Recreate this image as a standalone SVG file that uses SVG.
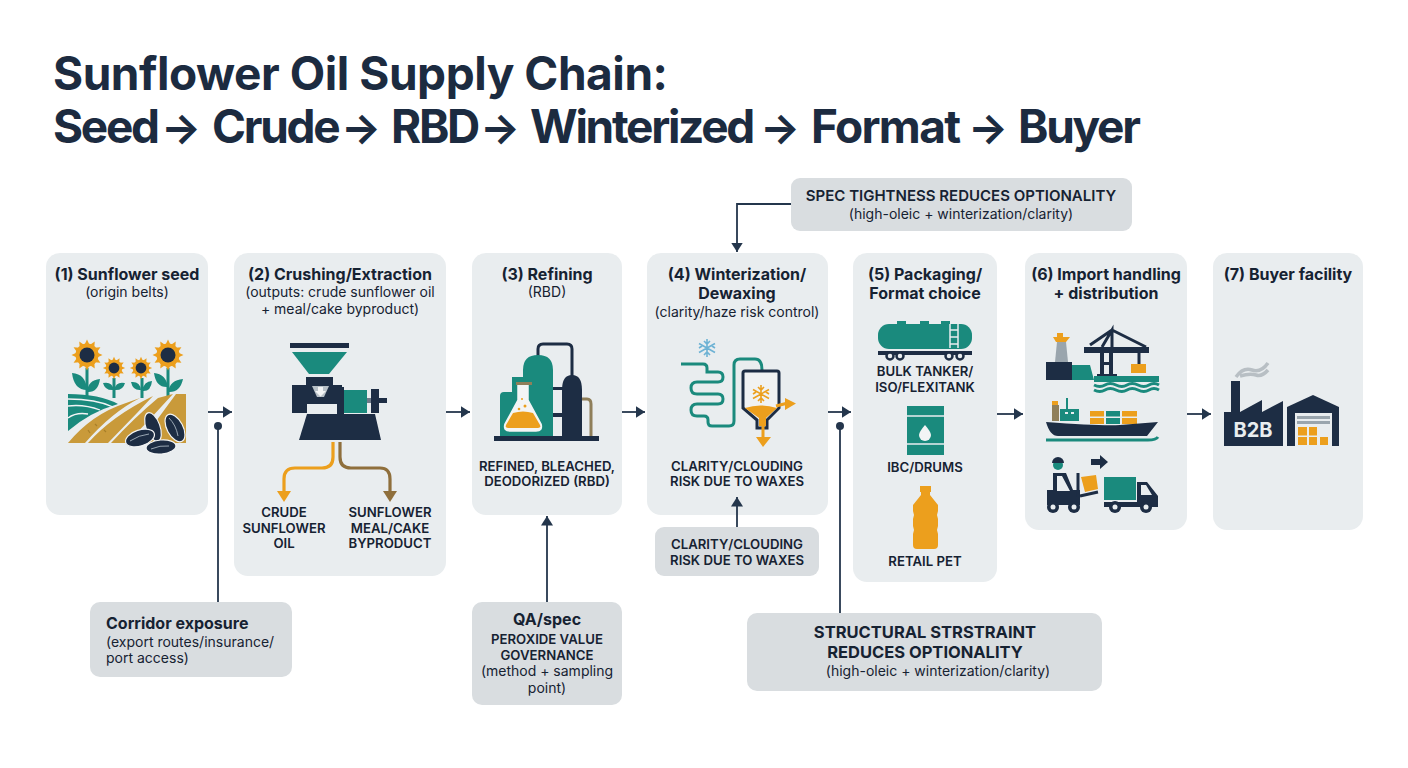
<svg xmlns="http://www.w3.org/2000/svg" width="1408" height="768" viewBox="0 0 1408 768">
<style>
text{font-family:Inter,"Liberation Sans",sans-serif;fill:#162232;text-anchor:middle}
.title{font-size:46px;font-weight:700;text-anchor:start;fill:#1c2b40}
.ar{font-size:42px}
.h{font-size:16px;font-weight:700}
.s{font-size:14px;font-weight:400}
.c{font-size:13.2px;font-weight:600}
.n{fill:#e9edef}
.g{fill:#d9dde0}
.ln{stroke:#24364c;stroke-width:1.8;fill:none}
.nv{fill:#1d2d44}.te{fill:#1a8a7d}.or{fill:#ec9f1d}.br{fill:#c99a3a}
.tl{fill:none;stroke:#1a8a7d;stroke-width:3}
.nl{fill:none;stroke:#1d2d44;stroke-width:3}
.sd{fill:#1d2d44;stroke:#f2f4f5;stroke-width:1.2}
</style>
<defs>
<marker id="a" markerUnits="userSpaceOnUse" markerWidth="10" markerHeight="13" refX="9.500" refY="6.500" orient="auto"><path d="M0 .5L9.500 6.500L0 12.500z" fill="#24364c"/></marker>
<path id="p" d="M-2.600-10L0-15.500L2.600-10z"/>
<g id="flower"><g class="or"><circle r="11.500"/><use href="#p"/><use href="#p" transform="rotate(30)"/><use href="#p" transform="rotate(60)"/><use href="#p" transform="rotate(90)"/><use href="#p" transform="rotate(120)"/><use href="#p" transform="rotate(150)"/><use href="#p" transform="rotate(180)"/><use href="#p" transform="rotate(210)"/><use href="#p" transform="rotate(240)"/><use href="#p" transform="rotate(270)"/><use href="#p" transform="rotate(300)"/><use href="#p" transform="rotate(330)"/></g><circle r="7.500" class="nv"/></g>
<g id="snow"><path d="M0-9V9M-8-4.500L8 4.500M-8 4.500L8-4.500M-3-7L0-4L3-7M-3 7L0 4L3 7M-8 0L-5-2M8 0L5-2" fill="none" stroke-width="1.600"/></g>
</defs>
<text class="title" x="53" y="90" letter-spacing="-.45">Sunflower Oil Supply Chain:</text>
<text class="title" y="143" letter-spacing="-2.300"><tspan x="53">Seed</tspan> <tspan x="161" class="ar">→</tspan> <tspan x="212">Crude</tspan> <tspan x="341" class="ar">→</tspan> <tspan x="391">RBD</tspan> <tspan x="480" class="ar">→</tspan> <tspan x="530">Winterized</tspan> <tspan x="760" class="ar">→</tspan> <tspan x="811" letter-spacing="-1.700">Format</tspan> <tspan x="968" class="ar">→</tspan> <tspan x="1018">Buyer</tspan></text>

<g id="node1"><rect class="n" x="46" y="253" width="162" height="262" rx="14"/>
<text class="h" x="127" y="280">(1) Sunflower seed</text><text class="s" x="127" y="297">(origin belts)</text>
<path class="tl" stroke-width="2.500" d="M87 368V398M114 378V398M142 378V398M168 368V396"/>
<path class="te" d="M87 390Q74 390 72 373Q86 374 87 390zM87 392Q98 393 100 379Q88 380 87 392zM114 390Q105 391 103 383Q112 381 114 390zM114 390Q123 391 125 383Q116 381 114 390zM141 390Q133 391 131 382Q140 381 141 390zM142 391Q151 392 152 381Q144 381 142 391zM168 387Q156 388 154 373Q166 374 168 387zM168 392Q180 393 183 379Q170 380 168 392z"/>
<use href="#flower" x="87" y="355"/><use href="#flower" transform="translate(114 368) scale(.72)"/><use href="#flower" transform="translate(141 368) scale(.72)"/><use href="#flower" x="168" y="355"/>
<path class="te" d="M68 394Q100 394 118 404Q90 412 68 431z"/>
<path d="M68 399Q96 399 113 407M68 406Q84 404 100 410M68 418Q76 412 88 414" fill="none" stroke="#f2f4f5" stroke-width="1.300"/>
<path class="br" d="M68 443Q92 414 126 403L140 398Q112 412 85 443zM88 443Q112 416 153 396L137 413L108 443zM111 443Q134 418 158 398L173 394L150 419L127 443zM176 394H186V443H140z"/>
<path d="M88 430l2 3M95 424l2 2M104 430l2 2" stroke="#a87f28" stroke-width="1.200"/>
<ellipse class="sd" cx="153" cy="427" rx="15" ry="7" transform="rotate(70 153 427)"/><ellipse class="sd" cx="175" cy="428" rx="15" ry="8" transform="rotate(62 175 428)"/><ellipse class="sd" cx="140" cy="438" rx="15" ry="8" transform="rotate(-18 140 438)"/><ellipse class="sd" cx="161" cy="447" rx="15" ry="7" transform="rotate(-5 161 447)"/>
<path d="M130 441q9-6 19-7M151 449q9-4 18-3M169 418q7 7 9 18" stroke="#9aa7b3" stroke-width="1" fill="none"/>
</g>

<g id="node2"><rect class="n" x="234" y="253" width="212" height="323" rx="14"/>
<text class="h" x="340" y="280">(2) Crushing/Extraction</text><text class="s" x="340" y="297">(outputs: crude sunflower oil</text><text class="s" x="340" y="314">+ meal/cake byproduct)</text>
<rect class="nv" x="290" y="343" width="59" height="5"/><path class="te" d="M292 352H347L329 374H309z"/>
<path class="nv" d="M306 377H333V385H342V413H304V404V385H306zM292 385H304V413H292z"/>
<path class="nv" d="M307 414H375L381 440H299z"/>
<rect class="n" x="307" y="404" width="30" height="10"/>
<path d="M312 386H329L324 397H317z" fill="#b7c0c7"/><path d="M318 387h5v4h3l-5.500 5.500L315 391h3z" fill="#f2f4f5"/>
<rect class="nv" x="337" y="387" width="7" height="27"/>
<rect class="te" x="344" y="390" width="23" height="23"/><rect class="nv" x="371" y="389" width="8" height="24"/><rect class="nv" x="379" y="398" width="8" height="5"/><rect class="nv" x="367" y="398" width="4" height="5" opacity=".6"/>
<path fill="none" stroke="#ec9f1d" stroke-width="3.200" d="M333 442V457Q333 468 322 468H295Q284 468 284 479V492"/><path class="or" d="M277 491H291L284 502z"/>
<path fill="none" stroke="#8f6f3c" stroke-width="3.200" d="M340 442V457Q340 468 351 468H380Q390 468 390 479V492"/><path fill="#8f6f3c" d="M383 491H397L390 502z"/>
<text class="c" x="284" y="517">CRUDE</text><text class="c" x="284" y="533">SUNFLOWER</text><text class="c" x="284" y="548">OIL</text>
<text class="c" x="390" y="517">SUNFLOWER</text><text class="c" x="390" y="533">MEAL/CAKE</text><text class="c" x="390" y="548">BYPRODUCT</text>
</g>

<g id="node3"><rect class="n" x="472" y="253" width="150" height="262" rx="14"/>
<text class="h" x="547" y="280">(3) Refining</text><text class="s" x="547" y="297">(RBD)</text>
<path class="nl" d="M538 358V349Q538 344 543 344H567Q572 344 572 349V378"/>
<path fill="none" stroke="#8f7f5a" stroke-width="3" d="M580 399H587Q591 399 591 404V436"/>
<path class="nv" d="M552 387h11v3h-11zM552 413h11v4h-11z"/>
<path class="te" d="M500 436V396Q500 392 504 392H512V377H523V370Q523 355 538 355Q553 355 553 370V436z"/>
<path class="nv" d="M562 436V390Q562 375 572 375Q582 375 582 390V436z"/>
<rect class="nv" x="494" y="436" width="105" height="5"/>
<path d="M518 385H528V400L541 424Q543 431 536 431H510Q503 431 505 424L518 400z" fill="#f3f5f5" stroke="#f3f5f5" stroke-width="1.500"/>
<rect x="516" y="382" width="16" height="3" fill="#8f7f5a"/>
<path class="or" d="M513 413Q523 410 533 413L540 425Q541 428 538 428H508Q505 428 506 425z"/>
<circle class="or" cx="525" cy="406" r="1.500"/><circle class="or" cx="522" cy="399" r="1"/><circle class="or" cx="519" cy="409" r="1.300"/>
<text class="c" x="547" y="471">REFINED, BLEACHED,</text><text class="c" x="547" y="486">DEODORIZED (RBD)</text>
</g>

<g id="node4"><rect class="n" x="647" y="253" width="181" height="262" rx="14"/>
<text class="h" x="737" y="280">(4) Winterization/</text><text class="h" x="737" y="299">Dewaxing</text><text class="s" x="737" y="317">(clarity/haze risk control)</text>
<use href="#snow" x="707" y="348" stroke="#6db2d4"/>
<path class="tl" d="M681 364H703Q707 364 707 368V372H718Q723 372 723 377T718 382H697Q691 382 691 388T697 394H718Q723 394 723 399T718 404H697Q691 404 691 410T697 416H704Q708 416 708 420V422Q708 426 712 426H729Q734 426 734 421V365Q734 359 740 359H755Q762 359 762 370"/>
<path d="M745 371H777Q779 371 779 373V408L767 420V428H757V420L743 408V373Q743 371 745 371z" fill="#f0f2f3" stroke="#1d2d44" stroke-width="3"/>
<path class="or" d="M745 408Q760 403 777 408L766 418V426H759V418z"/>
<use href="#snow" x="761" y="394" stroke="#ec9f1d"/>
<path fill="none" stroke="#ec9f1d" stroke-width="3" d="M776 406L788 403M763 425V438"/><path class="or" d="M785 398L796 403.500L785 410zM756 437H771L763 447z"/>
<text class="c" x="737" y="471">CLARITY/CLOUDING</text><text class="c" x="737" y="486">RISK DUE TO WAXES</text>
</g>

<g id="node5"><rect class="n" x="853" y="253" width="144" height="329" rx="14"/>
<text class="h" x="925" y="280">(5) Packaging/</text><text class="h" x="925" y="299">Format choice</text>
<rect class="te" x="878" y="324" width="94" height="25" rx="11"/><path class="te" d="M897 321h9v4h-9zM920 321h9v4h-9zM941 321h9v4h-9z"/>
<path d="M950 324V348M958 324V348M950 330H958M950 337H958M950 344H958" stroke="#e9edef" stroke-width="1.500" fill="none"/>
<rect class="nv" x="878" y="351" width="94" height="4"/>
<g fill="#e9edef" stroke="#1d2d44" stroke-width="2.500"><circle cx="890" cy="356" r="3.500"/><circle cx="900" cy="356" r="3.500"/><circle cx="949" cy="356" r="3.500"/><circle cx="960" cy="356" r="3.500"/></g>
<text class="c" x="925" y="376">BULK TANKER/</text><text class="c" x="925" y="392">ISO/FLEXITANK</text>
<path class="te" d="M907 406H944V455H907z"/>
<path d="M907 416H944M907 444H944" stroke="#e9edef" stroke-width="1.400"/>
<path d="M925 425q6 7 6 10a6 6 0 0 1-12 0q0-3 6-10z" fill="#f2f4f5"/>
<text class="c" x="925" y="472">IBC/DRUMS</text>
<path class="or" d="M920 486H931V492H930V495L938 505V511L937 515L938 519V526L937 530L938 534V545Q938 549 934 549H917Q913 549 913 545V534L914 530L913 526V519L914 515L913 511V505L921 495V492H920z"/>
<text class="c" x="925" y="566">RETAIL PET</text>
</g>

<g id="node6"><rect class="n" x="1025" y="253" width="162" height="277" rx="14"/>
<text class="h" x="1106" y="280">(6) Import handling</text><text class="h" x="1106" y="299">+ distribution</text>
<path d="M1057 342H1066L1068 362H1055z" fill="#9aa5ad"/><path class="or" d="M1053 337H1070L1066 342H1056zM1057 333h6v4h-6z"/>
<rect class="nv" x="1046" y="362" width="26" height="18"/><path class="te" d="M1072 365H1090L1094 380H1072z"/>
<path class="nv" d="M1084 347H1149V353H1084zM1100 353H1104V375H1100zM1109 353H1113V375H1109zM1100 362H1113V365H1100zM1097 374H1117V380H1097z"/>
<path class="nl" stroke-width="2" d="M1102 347L1112 330V347M1112 330L1090 345M1112 330L1146 347"/>
<path class="nl" stroke-width="1.500" d="M1139 353V364"/><rect class="or" x="1131" y="364" width="15" height="9"/>
<path class="te" d="M1094 376H1159V382H1094z"/>
<path class="tl" stroke-width="2" d="M1094 385q6 3 11 0t11 0t11 0t11 0t11 0t10 0M1094 390q6 3 11 0t11 0t11 0t11 0t11 0t10 0"/>
<path d="M1052 405H1059V421H1052z" fill="#8f7f5a"/><rect class="or" x="1052" y="401" width="6" height="4"/>
<path class="te" d="M1060 409H1079V421H1060zM1066 398h2v11h-2z"/><path d="M1065 412h3v2h-3zM1071 412h3v2h-3z" fill="#e9edef"/>
<g class="or"><rect x="1090" y="411" width="14" height="5.500"/><rect x="1090" y="418" width="14" height="6"/><rect x="1122" y="411" width="15" height="5.500"/><rect x="1122" y="418" width="15" height="6"/></g>
<g class="te"><rect x="1106" y="411" width="14" height="5.500"/><rect x="1106" y="418" width="14" height="6"/></g>
<path class="nv" d="M1046 422Q1100 426 1120 425L1158 422L1147 436H1058Q1050 436 1046 422z"/>
<path class="tl" stroke-width="3" d="M1046 440H1148Q1156 440 1158 437"/>
<circle class="te" cx="1058" cy="465" r="5"/><path class="nv" d="M1052 463a5.500 5.500 0 0 1 12 0z"/><path class="nv" d="M1091 459H1100V455L1108 462L1100 469V465H1091z"/>
<path class="nv" d="M1053 473H1066L1073 490H1080V505H1047V490H1053zM1057 476V491H1070L1062 476z" fill-rule="evenodd"/>
<path class="nl" stroke-width="2.500" d="M1078 473V497M1080 496L1098 492"/>
<path class="or" d="M1081 477L1096 475L1098 489L1085 492z"/>
<rect class="te" x="1104" y="477" width="32" height="23"/>
<path class="nv" d="M1104 502H1137V482H1147L1158 496V507H1104z"/><path d="M1141 485H1146L1152 495H1141z" fill="#e9edef"/>
<g class="nv"><circle cx="1053" cy="507" r="6"/><circle cx="1074" cy="507" r="6"/><circle cx="1115" cy="507" r="6"/><circle cx="1146" cy="507" r="6"/></g>
<g fill="#e9edef"><circle cx="1053" cy="507" r="2.500"/><circle cx="1074" cy="507" r="2.500"/><circle cx="1115" cy="507" r="2.500"/><circle cx="1146" cy="507" r="2.500"/></g>
</g>

<g id="node7"><rect class="n" x="1213" y="253" width="150" height="277" rx="14"/>
<text class="h" x="1288" y="280">(7) Buyer facility</text>
<path d="M1236 377Q1243 367 1252 370T1268 363M1240 376Q1250 373 1256 375T1268 370" fill="none" stroke="#b8bfc4" stroke-width="3.500"/>
<path class="nv" d="M1224 446V412H1231V381H1240V412L1262 400V412L1283 401V446z"/>
<path class="nv" d="M1287 446V407L1313 395L1339 407V446z"/>
<rect fill="#e9edef" x="1295" y="413" width="37" height="33"/>
<rect x="1297" y="416" width="33" height="3" fill="#9aa5ad"/><rect x="1297" y="421" width="33" height="3" fill="#9aa5ad"/>
<g class="or"><rect x="1298" y="427" width="9" height="8.500"/><rect x="1309" y="427" width="8" height="8.500"/><rect x="1298" y="437" width="9" height="8"/><rect x="1309" y="437" width="8" height="8"/><rect x="1320" y="437" width="8" height="8"/></g>
<text x="1253" y="437" font-size="20" font-weight="700" style="fill:#e9edef">B2B</text>
</g>

<g id="note-spec"><rect class="g" x="791" y="178" width="341" height="53" rx="9"/><text class="c" x="961" y="201" style="font-size:15px">SPEC TIGHTNESS REDUCES OPTIONALITY</text><text class="s" x="961" y="219">(high-oleic + winterization/clarity)</text></g>
<g id="note-corridor"><rect class="g" x="90" y="602" width="202" height="75" rx="10"/><text class="h" x="106" y="629" style="text-anchor:start">Corridor exposure</text><text class="s" x="106" y="647" style="text-anchor:start">(export routes/insurance/</text><text class="s" x="106" y="663" style="text-anchor:start">port access)</text></g>
<g id="note-qa"><rect class="g" x="472" y="602" width="150" height="103" rx="10"/><text class="h" x="547" y="625">QA/spec</text><text class="c" x="547" y="644">PEROXIDE VALUE</text><text class="c" x="547" y="660">GOVERNANCE</text><text class="s" x="547" y="676">(method + sampling</text><text class="s" x="547" y="693">point)</text></g>
<g id="note-clarity"><rect class="g" x="655" y="527" width="164" height="49" rx="9"/><text class="c" x="737" y="549">CLARITY/CLOUDING</text><text class="c" x="737" y="565">RISK DUE TO WAXES</text></g>
<g id="note-structural"><rect class="g" x="747" y="613" width="355" height="78" rx="10"/><text class="h" x="925" y="638" style="font-size:16.500px">STRUCTURAL STRSTRAINT</text><text class="h" x="925" y="658" style="font-size:16.500px">REDUCES OPTIONALITY</text><text class="s" x="938" y="676">(high-oleic + winterization/clarity)</text></g>

<g id="connectors">
<path class="ln" d="M208 412H232" marker-end="url(#a)"/>
<path class="ln" d="M446 412H470" marker-end="url(#a)"/>
<path class="ln" d="M622 412H645" marker-end="url(#a)"/>
<path class="ln" d="M828 412H851" marker-end="url(#a)"/>
<path class="ln" d="M997 414H1023" marker-end="url(#a)"/>
<path class="ln" d="M1187 414H1211" marker-end="url(#a)"/>
<path class="ln" d="M218 602V426"/><circle cx="218" cy="426" r="4" fill="#24364c"/>
<path class="ln" d="M840 613V426"/><circle cx="840" cy="426" r="4" fill="#24364c"/>
<path class="ln" d="M547 602V516" marker-end="url(#a)"/>
<path class="ln" d="M737 527V497" marker-end="url(#a)"/>
<path class="ln" d="M791 204H737V252" marker-end="url(#a)"/>
</g>
</svg>
